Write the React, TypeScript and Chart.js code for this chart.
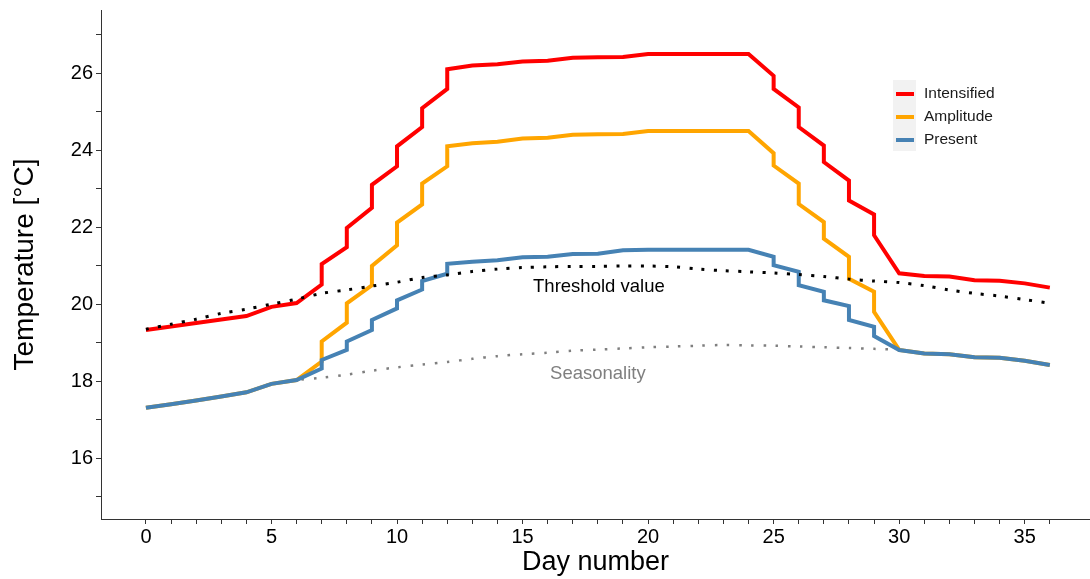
import React, { useEffect, useRef } from 'react';
import { Chart, registerables } from 'chart.js';

Chart.register(...registerables);

const FONT = '"Liberation Sans", Arial, Helvetica, sans-serif';

// Daily axis for smooth reference curves
const days = [0, 1, 2, 3, 4, 5, 6, 7, 8, 9, 10, 11, 12, 13, 14, 15, 16, 17, 18, 19, 20, 21, 22, 23, 24, 25, 26, 27, 28, 29, 30, 31, 32, 33, 34, 35, 36];

const thresholdValues = [19.35, 19.48, 19.61, 19.76, 19.87, 20.0, 20.13, 20.28, 20.37, 20.47, 20.57, 20.69, 20.76, 20.85, 20.91, 20.95, 20.97, 20.98, 20.98, 20.99, 20.99, 20.97, 20.91, 20.87, 20.84, 20.81, 20.77, 20.72, 20.65, 20.6, 20.56, 20.48, 20.37, 20.28, 20.21, 20.12, 20.02];

const seasonalityValues = [17.31, 17.4, 17.5, 17.6, 17.71, 17.93, 18.03, 18.09, 18.17, 18.27, 18.36, 18.43, 18.5, 18.58, 18.65, 18.7, 18.74, 18.79, 18.82, 18.85, 18.88, 18.9, 18.92, 18.94, 18.93, 18.92, 18.9, 18.88, 18.86, 18.84, 18.81, 18.72, 18.7, 18.62, 18.61, 18.53, 18.42];

// Step-like series: x positions repeat at days where the series jumps
const stepDays = [0, 1, 2, 3, 4, 5, 6, 7, 7, 8, 8, 9, 9, 10, 10, 11, 11, 12, 12, 13, 14, 15, 16, 17, 18, 19, 20, 24, 25, 25, 26, 26, 27, 27, 28, 28, 29, 29, 30, 31, 32, 33, 34, 35, 36];

const intensifiedValues = [19.33, 19.42, 19.51, 19.6, 19.69, 19.93, 20.03, 20.51, 21.04, 21.48, 21.98, 22.5, 23.1, 23.58, 24.1, 24.6, 25.09, 25.59, 26.1, 26.2, 26.23, 26.3, 26.32, 26.4, 26.41, 26.42, 26.5, 26.5, 25.93, 25.59, 25.11, 24.6, 24.12, 23.69, 23.21, 22.69, 22.33, 21.79, 20.8, 20.73, 20.72, 20.62, 20.61, 20.54, 20.43];

const amplitudeValues = [17.31, 17.4, 17.5, 17.6, 17.71, 17.93, 18.03, 18.51, 19.03, 19.52, 20.02, 20.49, 20.99, 21.53, 22.12, 22.59, 23.13, 23.58, 24.1, 24.18, 24.22, 24.3, 24.32, 24.4, 24.41, 24.42, 24.5, 24.5, 23.92, 23.6, 23.13, 22.6, 22.13, 21.7, 21.23, 20.66, 20.32, 19.8, 18.81, 18.72, 18.7, 18.62, 18.61, 18.53, 18.42];

const presentValues = [17.31, 17.4, 17.5, 17.6, 17.71, 17.93, 18.03, 18.33, 18.55, 18.81, 19.03, 19.33, 19.59, 19.89, 20.1, 20.38, 20.6, 20.79, 21.05, 21.1, 21.14, 21.22, 21.23, 21.3, 21.31, 21.4, 21.41, 21.41, 21.23, 21.01, 20.84, 20.49, 20.32, 20.1, 19.95, 19.59, 19.41, 19.17, 18.81, 18.72, 18.7, 18.62, 18.61, 18.53, 18.42];

const xTickValues = [0, 1, 2, 3, 4, 5, 6, 7, 8, 9, 10, 11, 12, 13, 14, 15, 16, 17, 18, 19, 20, 21, 22, 23, 24, 25, 26, 27, 28, 29, 30, 31, 32, 33, 34, 35, 36];
const xLabelValues = [0, 5, 10, 15, 20, 25, 30, 35];
const yTickValues = [15, 16, 17, 18, 19, 20, 21, 22, 23, 24, 25, 26, 27];
const yLabelValues = [16, 18, 20, 22, 24, 26];

const legendNames = ['Intensified', 'Amplitude', 'Present'];
const legendColors = ['#ff0000', '#ffa500', '#4682b4'];

const toPoints = (xs: number[], ys: number[]) => xs.map((x, i) => ({ x, y: ys[i] }));

const annotPlugin = {
  id: 'annotations',
  afterDraw(chart: any) {
    const { ctx, scales } = chart;
    const x = scales.x;
    const y = scales.y;
    ctx.save();
    ctx.textAlign = 'center';
    ctx.textBaseline = 'middle';
    ctx.font = `18.5px ${FONT}`;
    ctx.fillStyle = '#000000';
    ctx.fillText('Threshold value', x.getPixelForValue(18.04), y.getPixelForValue(20.44));
    ctx.fillStyle = '#7f7f7f';
    ctx.fillText('Seasonality', x.getPixelForValue(18.0), y.getPixelForValue(18.2));

    // legend
    const lx = 893;
    const ly = 80;
    ctx.fillStyle = '#f2f2f2';
    ctx.fillRect(lx, ly, 23, 71);
    const rows = [94, 117, 140];
    ctx.textAlign = 'left';
    ctx.font = `15.5px ${FONT}`;
    legendNames.forEach((name, i) => {
      ctx.strokeStyle = legendColors[i];
      ctx.lineWidth = 4;
      ctx.lineCap = 'butt';
      ctx.beginPath();
      ctx.moveTo(lx + 3, rows[i]);
      ctx.lineTo(lx + 21, rows[i]);
      ctx.stroke();
      ctx.fillStyle = '#1a1a1a';
      ctx.fillText(name, 924, rows[i]);
    });
    ctx.restore();
  },
};

export default function App() {
  const canvasRef = useRef<HTMLCanvasElement | null>(null);

  useEffect(() => {
    if (!canvasRef.current) return;
    const chart = new Chart(canvasRef.current, {
      type: 'line',
      data: {
        // first dataset is drawn on top
        datasets: [
          {
            label: 'Threshold',
            data: toPoints(days, thresholdValues),
            borderColor: '#000000',
            borderWidth: 3,
            borderDash: [3, 9.2],
            borderCapStyle: 'butt',
            pointRadius: 0,
            fill: false,
            tension: 0.3,
          },
          {
            label: 'Intensified',
            data: toPoints(stepDays, intensifiedValues),
            borderColor: '#ff0000',
            borderWidth: 4,
            pointRadius: 0,
            fill: false,
            tension: 0,
          },
          {
            label: 'Present',
            data: toPoints(stepDays, presentValues),
            borderColor: '#4682b4',
            borderWidth: 4,
            pointRadius: 0,
            fill: false,
            tension: 0,
          },
          {
            label: 'Amplitude',
            data: toPoints(stepDays, amplitudeValues),
            borderColor: '#ffa500',
            borderWidth: 4,
            pointRadius: 0,
            fill: false,
            tension: 0,
          },
          {
            label: 'Seasonality',
            data: toPoints(days, seasonalityValues),
            borderColor: '#7f7f7f',
            borderWidth: 2.5,
            borderDash: [2.5, 9.7],
            borderCapStyle: 'butt',
            pointRadius: 0,
            fill: false,
            tension: 0.3,
          },
        ],
      },
      options: {
        responsive: false,
        animation: false,
        devicePixelRatio: 1,
        layout: { padding: { top: 10, left: 0, right: 0, bottom: 0 } },
        plugins: {
          legend: { display: false },
          tooltip: { enabled: false },
        },
        scales: {
          x: {
            type: 'linear',
            min: -1.79,
            max: 37.6,
            afterFit: (s: any) => { s.height = 60; s.paddingLeft = 0; s.paddingRight = 0; },
            afterBuildTicks: (s: any) => { s.ticks = xTickValues.map((v) => ({ value: v })); },
            ticks: {
              autoSkip: false,
              maxRotation: 0,
              padding: 1,
              color: '#000000',
              font: { family: FONT, size: 20 },
              callback: (v: any) => (xLabelValues.includes(Number(v)) ? String(v) : ''),
            },
            grid: { display: true, drawOnChartArea: false, drawTicks: true, tickLength: 5, color: '#333333', lineWidth: 1 },
            border: { display: true, color: '#333333', width: 1 },
            title: {
              display: true,
              text: 'Day number',
              color: '#000000',
              font: { family: FONT, size: 27 },
              padding: { top: 0, bottom: 0 },
            },
          },
          y: {
            type: 'linear',
            min: 14.42,
            max: 27.64,
            afterFit: (s: any) => { s.width = 101; s.paddingTop = 0; s.paddingBottom = 0; },
            afterBuildTicks: (s: any) => { s.ticks = yTickValues.map((v) => ({ value: v })); },
            ticks: {
              autoSkip: false,
              padding: 3,
              color: '#000000',
              font: { family: FONT, size: 20 },
              callback: (v: any) => (yLabelValues.includes(Number(v)) ? String(v) : ''),
            },
            grid: { display: true, drawOnChartArea: false, drawTicks: true, tickLength: 5, color: '#333333', lineWidth: 1 },
            border: { display: true, color: '#333333', width: 1 },
            title: {
              display: true,
              text: 'Temperature [°C]',
              color: '#000000',
              font: { family: FONT, size: 28 },
              padding: { top: 8, bottom: 0 },
            },
          },
        },
      },
      plugins: [annotPlugin],
    } as any);
    return () => chart.destroy();
  }, []);

  return (
    <div style={{ position: 'absolute', left: 0, top: 0, width: 1090, height: 579, background: '#ffffff' }}>
      <canvas ref={canvasRef} width={1090} height={579} style={{ display: 'block', width: 1090, height: 579 }} />
    </div>
  );
}
